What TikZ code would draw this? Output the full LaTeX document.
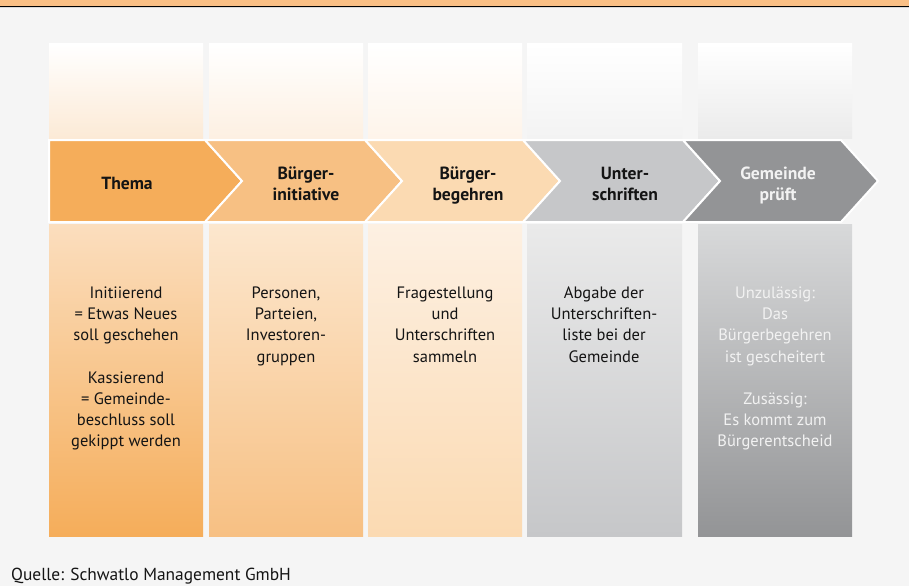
\documentclass[tikz,border=0pt]{standalone}
\usepackage{fontspec}
\setmainfont{PT Sans}
\definecolor{bgc}{HTML}{F5F5F5}
\definecolor{barc}{HTML}{F9BF85}
% chevron fills
\definecolor{aA}{HTML}{F5AD5A}
\definecolor{aB}{HTML}{F7C083}
\definecolor{aC}{HTML}{FBDAB2}
\definecolor{aD}{HTML}{C6C7C9}
\definecolor{aE}{HTML}{939496}
% upper fading panels (bottom colours)
\definecolor{tA}{HTML}{FCEAD6}
\definecolor{tB}{HTML}{FDF0E2}
\definecolor{tC}{HTML}{FEF4EA}
\definecolor{tD}{HTML}{F3F3F3}
\definecolor{tE}{HTML}{EBEBEB}
% lower panels (top colours)
\definecolor{bA}{HTML}{FBDEBE}
\definecolor{bB}{HTML}{FCE7CE}
\definecolor{bC}{HTML}{FDF0E2}
\definecolor{bD}{HTML}{EAEAEA}
\definecolor{bE}{HTML}{D8D9DA}
\definecolor{inkdark}{HTML}{141414}
\definecolor{inklight}{HTML}{F2F2F2}
\begin{document}
\begin{tikzpicture}[x=1pt,y=-1pt,
  chevron/.style={draw=white,line width=2pt,line join=miter},
  lab/.style={inner sep=0pt,align=center,text=inkdark,
    font=\fontsize{17.6}{21}\selectfont\bfseries},
  body/.style={inner sep=0pt,anchor=north,align=center,text=inkdark,
    font=\fontsize{16.5}{21.2}\selectfont},
  src/.style={inner sep=0pt,anchor=base west,text=inkdark,
    font=\fontsize{17.4}{20}\selectfont}]
\useasboundingbox (0,0) rectangle (909,586);
% background and header band
\fill[bgc] (0,0) rectangle (909,586);
\fill[barc] (0,0) rectangle (909,5.8);
\fill[black] (0,5.8) rectangle (909,7.4);
\fill[black!15] (0,7.4) rectangle (909,8.4);

% upper fading panels
\shade[top color=white,bottom color=tA] (49,44) rectangle (203,138);
\shade[top color=white,bottom color=tB] (209,44) rectangle (363,138);
\shade[top color=white,bottom color=tC] (368,44) rectangle (522,138);
\shade[top color=white,bottom color=tD] (527,44) rectangle (682,138);
\shade[top color=white,bottom color=tE] (698,44) rectangle (852,138);

% lower panels
\shade[top color=bA,bottom color=aA] (49,224) rectangle (203,536);
\shade[top color=bB,bottom color=aB] (209,224) rectangle (363,536);
\shade[top color=bC,bottom color=aC] (368,224) rectangle (522,536);
\shade[top color=bD,bottom color=aD] (527,224) rectangle (682,536);
\shade[top color=bE,bottom color=aE] (698,224) rectangle (852,536);

% process chevrons
\path[chevron,fill=aA] (49,140) -- (205,140) -- (242,181) -- (205,222) -- (49,222) -- cycle;
\path[chevron,fill=aB] (205,140) -- (365,140) -- (402,181) -- (365,222) -- (205,222) -- (242,181) -- cycle;
\path[chevron,fill=aC] (365,140) -- (523,140) -- (560,181) -- (523,222) -- (365,222) -- (402,181) -- cycle;
\path[chevron,fill=aD] (523,140) -- (683,140) -- (720,181) -- (683,222) -- (523,222) -- (560,181) -- cycle;
\path[chevron,fill=aE] (683,140) -- (841,140) -- (878,181) -- (841,222) -- (683,222) -- (720,181) -- cycle;

% chevron labels
\node[lab] (thema) at (127,185.3) {\strut Thema\strut};
\node[lab] (initiative) at (306,185.3) {\strut Bürger-\\initiative\strut};
\node[lab] (begehren) at (468,185.3) {\strut Bürger-\\begehren\strut};
\node[lab] (unterschriften) at (625,185.3) {\strut Unter-\\schriften\strut};
\node[lab,text=inklight] (pruefung) at (778,185.3) {\strut Gemeinde\\prüft\strut};

% panel texts
\node[body] (tA) at (126,283.4) {\strut Initiierend\\= Etwas Neues\\soll geschehen\\[21.2pt]Kassierend\\= Gemeinde-\\beschluss soll\\gekippt werden};
\node[body] (tB) at (286,283.4) {\strut Personen,\\Parteien,\\Investoren-\\gruppen};
\node[body] (tC) at (445,283.4) {\strut Fragestellung\\und\\Unterschriften\\sammeln};
\node[body] (tD) at (604,283.4) {\strut Abgabe der\\Unterschriften-\\liste bei der\\Gemeinde};
\node[body,text=inklight] (tE) at (775,283.4) {\strut Unzulässig:\\Das\\Bürgerbegehren\\ist gescheitert\\[21.2pt]Zusässig:\\Es kommt zum\\Bürgerentscheid};

% source line
\node[src] (quelle) at (11,580) {Quelle: Schwatlo Management GmbH};
\end{tikzpicture}
\end{document}
